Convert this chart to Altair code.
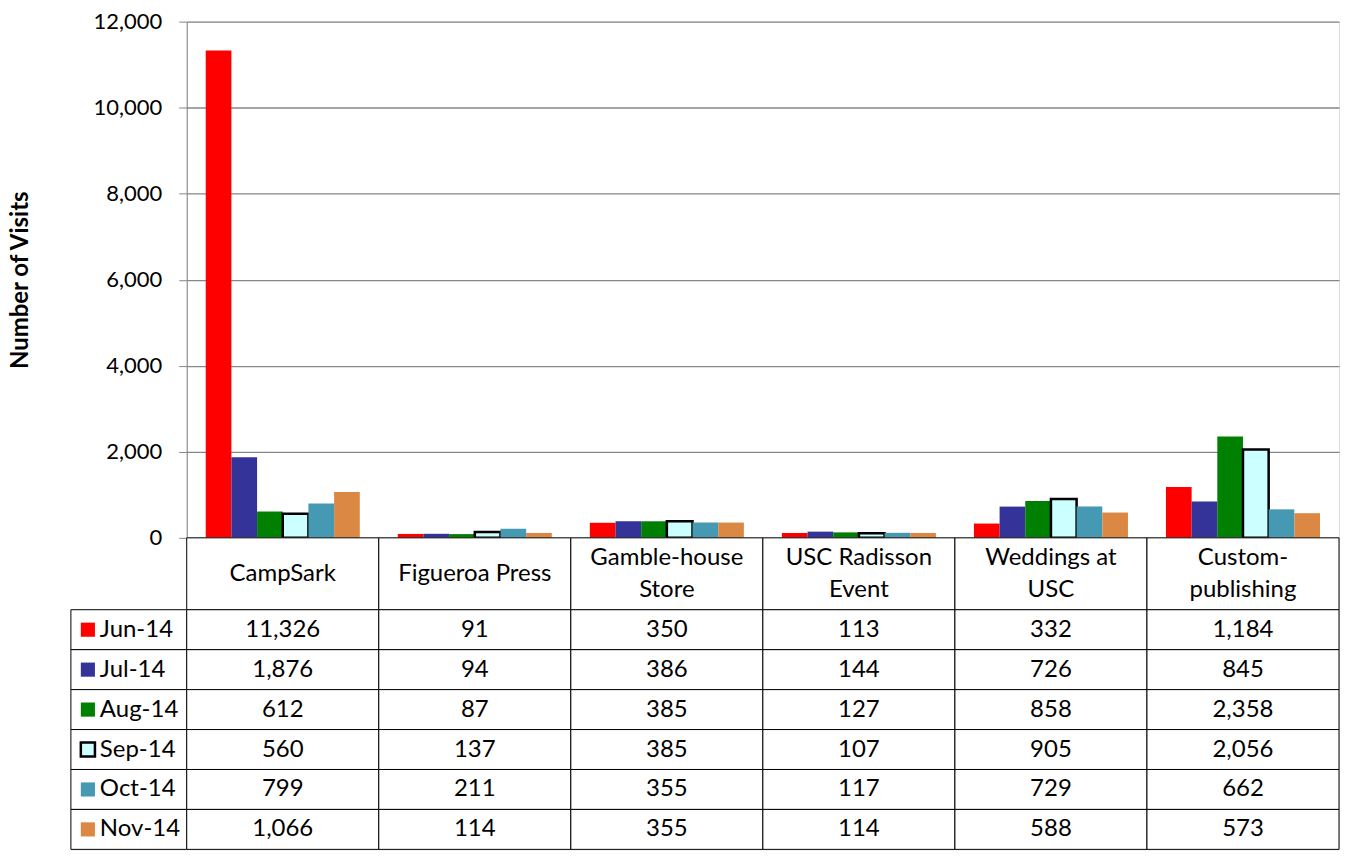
import altair as alt
import pandas as pd

categories = ["CampSark", "Figueroa Press", "Gamble-house Store", "USC Radisson Event", "Weddings at USC", "Custom-publishing"]
header_labels = ["CampSark", "Figueroa Press", "Gamble-house\nStore", "USC Radisson\nEvent", "Weddings at\nUSC", "Custom-\npublishing"]
months = ["Jun-14", "Jul-14", "Aug-14", "Sep-14", "Oct-14", "Nov-14"]
jun = [11326, 91, 350, 113, 332, 1184]
jul = [1876, 94, 386, 144, 726, 845]
aug = [612, 87, 385, 127, 858, 2358]
sep = [560, 137, 385, 107, 905, 2056]
oct_ = [799, 211, 355, 117, 729, 662]
nov = [1066, 114, 355, 114, 588, 573]
colors = ["#FF0000", "#333399", "#008000", "#CCFFFF", "#4699B2", "#DA8843"]
y_ticks = [0, 2000, 4000, 6000, 8000, 10000, 12000]

series = [jun, jul, aug, sep, oct_, nov]
rows = []
for m, vals in zip(months, series):
    for c, v in zip(categories, vals):
        rows.append({"category": c, "month": m, "value": v})
df = pd.DataFrame(rows)
hdr = pd.DataFrame({"category": categories, "label": header_labels,
                    "nlines": [len(s.split("\n")) for s in header_labels]})
leg = pd.DataFrame({"month": months})

PW = 1154
FONT = "Lato"
TS = 24

color_scale = alt.Scale(domain=months, range=colors)
is_sep = alt.datum.month == "Sep-14"
band0 = alt.Scale(paddingInner=0, paddingOuter=0)

bars = alt.Chart(df).mark_bar().encode(
    x=alt.X("category:N", sort=categories, axis=None, scale=band0),
    xOffset=alt.XOffset("month:N", sort=months,
                        scale=alt.Scale(paddingInner=0, paddingOuter=0.74)),
    y=alt.Y("value:Q", scale=alt.Scale(domain=[0, 12000], nice=False),
            axis=alt.Axis(values=y_ticks, format=",.0f", title="Number of Visits",
                          titleFont=FONT, titleFontSize=24, titleFontWeight="bold",
                          titleColor="black", titlePadding=54,
                          labelFont=FONT, labelFontSize=22, labelColor="black",
                          labelPadding=17, tickSize=8, tickColor="#868686",
                          domainColor="#868686", gridColor="#868686", gridWidth=1.3,
                          minExtent=100, maxExtent=100)),
    color=alt.Color("month:N", scale=color_scale, legend=None),
    stroke=alt.condition(is_sep, alt.value("black"), alt.value("transparent")),
    strokeWidth=alt.condition(is_sep, alt.value(2.5), alt.value(0)),
).properties(width=PW, height=517)

ph1 = alt.Chart(leg).mark_text(text="").properties(width=116, height=517)
ph2 = alt.Chart(leg).mark_text(text="").properties(width=116, height=72)

hx = alt.X("category:N", sort=categories, axis=None, scale=band0)
header_rect = alt.Chart(hdr).mark_rect(fill="white", stroke="black", strokeWidth=1).encode(x=hx)
header_text1 = alt.Chart(hdr).transform_filter(alt.datum.nlines == 1).mark_text(
    font=FONT, fontSize=TS, baseline="middle", color="black").encode(x=hx, text="label:N")
header_text2 = alt.Chart(hdr).transform_filter(alt.datum.nlines == 2).mark_text(
    font=FONT, fontSize=TS, lineBreak="\n", lineHeight=32, baseline="middle",
    dy=-16, color="black").encode(x=hx, text="label:N")
header = alt.layer(header_rect, header_text1, header_text2).properties(width=PW, height=72)

ty = alt.Y("month:N", sort=months, axis=None, scale=band0)
table_rect = alt.Chart(df).mark_rect(fill="white", stroke="black", strokeWidth=1).encode(x=hx, y=ty)
table_text = alt.Chart(df).mark_text(font=FONT, fontSize=TS, baseline="middle",
                                     color="black").encode(
    x=hx, y=ty, text=alt.Text("value:Q", format=","))
table = alt.layer(table_rect, table_text).properties(width=PW, height=240)

leg_rect = alt.Chart(leg).mark_rect(fill="white", stroke="black", strokeWidth=1).encode(y=ty)
leg_sq = alt.Chart(leg).mark_square(size=200, opacity=1).encode(
    x=alt.value(17), y=ty,
    fill=alt.Color("month:N", scale=color_scale, legend=None),
    stroke=alt.condition(is_sep, alt.value("black"), alt.value("transparent")),
    strokeWidth=alt.condition(is_sep, alt.value(2.5), alt.value(0)),
)
leg_text = alt.Chart(leg).mark_text(font=FONT, fontSize=TS, align="left",
                                    baseline="middle", color="black").encode(
    x=alt.value(29), y=ty, text="month:N")
legend_col = alt.layer(leg_rect, leg_sq, leg_text).properties(width=116, height=240)

chart = alt.concat(ph1, bars, ph2, header, legend_col, table,
                   columns=2, spacing=0, bounds="flush").properties(
    padding={"left": 0, "top": 1, "right": 0, "bottom": 0}
).configure_view(strokeWidth=0).configure(font=FONT)

chart.save("out.html", embed_options={"renderer": "svg", "actions": False})
